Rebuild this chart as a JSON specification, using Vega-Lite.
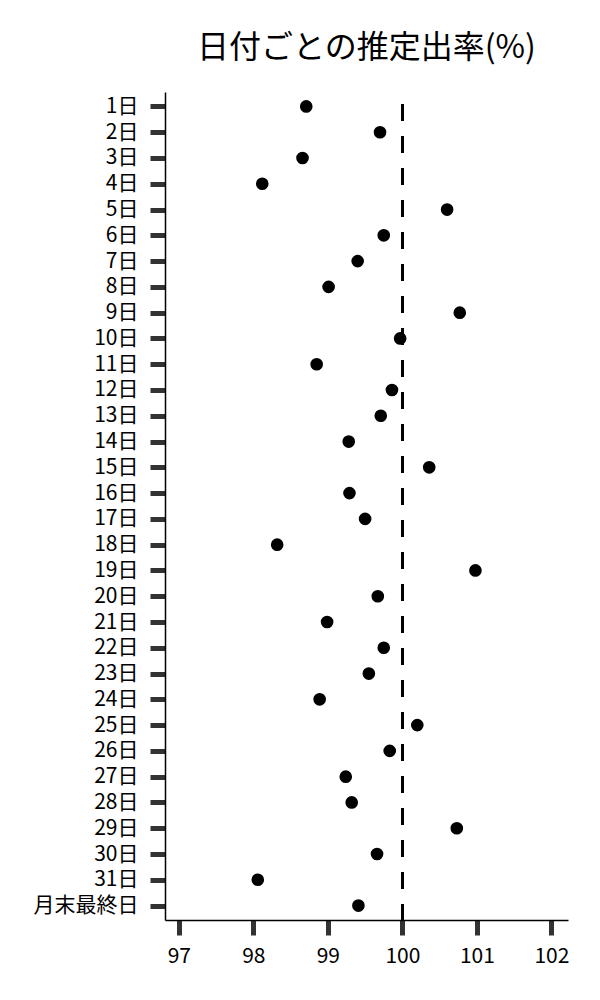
{
  "$schema": "https://vega.github.io/schema/vega-lite/v6.json",
  "autosize": {"type": "none"},
  "padding": {"left": 165, "top": 92, "right": 32, "bottom": 80},
  "width": 403,
  "height": 828,
  "background": "white",
  "config": {
    "view": {"stroke": null},
    "font": "Noto Sans CJK JP"
  },
  "title": {
    "text": "日付ごとの推定出率(%)",
    "font": "Noto Sans CJK JP",
    "fontSize": 32,
    "fontWeight": "normal",
    "color": "black",
    "anchor": "middle",
    "offset": 26
  },
  "data": {
    "values": [
      {"day": "1日", "rate": 98.71},
      {"day": "2日", "rate": 99.70},
      {"day": "3日", "rate": 98.66},
      {"day": "4日", "rate": 98.12},
      {"day": "5日", "rate": 100.60},
      {"day": "6日", "rate": 99.75},
      {"day": "7日", "rate": 99.40},
      {"day": "8日", "rate": 99.01},
      {"day": "9日", "rate": 100.77},
      {"day": "10日", "rate": 99.97},
      {"day": "11日", "rate": 98.85},
      {"day": "12日", "rate": 99.86},
      {"day": "13日", "rate": 99.71},
      {"day": "14日", "rate": 99.28},
      {"day": "15日", "rate": 100.36},
      {"day": "16日", "rate": 99.29},
      {"day": "17日", "rate": 99.50},
      {"day": "18日", "rate": 98.32},
      {"day": "19日", "rate": 100.98},
      {"day": "20日", "rate": 99.67},
      {"day": "21日", "rate": 98.99},
      {"day": "22日", "rate": 99.75},
      {"day": "23日", "rate": 99.55},
      {"day": "24日", "rate": 98.89},
      {"day": "25日", "rate": 100.20},
      {"day": "26日", "rate": 99.83},
      {"day": "27日", "rate": 99.24},
      {"day": "28日", "rate": 99.32},
      {"day": "29日", "rate": 100.73},
      {"day": "30日", "rate": 99.66},
      {"day": "31日", "rate": 98.06},
      {"day": "月末最終日", "rate": 99.41}
    ]
  },
  "layer": [
    {
      "mark": {"type": "rule", "color": "black", "strokeWidth": 2.5, "strokeDash": [17, 15], "strokeDashOffset": 20},
      "encoding": {
        "x": {"datum": 100, "type": "quantitative"}
      }
    },
    {
      "mark": {"type": "circle", "size": 160, "color": "black", "opacity": 1},
      "encoding": {
        "x": {
          "field": "rate",
          "type": "quantitative",
          "scale": {"domain": [96.815, 102.222], "nice": false, "zero": false},
          "axis": {
            "title": null,
            "values": [97, 98, 99, 100, 101, 102],
            "format": "d",
            "grid": false,
            "domainColor": "black",
            "domainWidth": 1.5,
            "tickColor": "#333333",
            "tickWidth": 5,
            "tickSize": 15,
            "labelFont": "Noto Sans CJK JP",
            "labelFontSize": 21,
            "labelColor": "black",
            "labelPadding": 10,
            "labelFlush": false
          }
        },
        "y": {
          "field": "day",
          "type": "nominal",
          "sort": null,
          "scale": {"type": "point", "padding": 0.56},
          "axis": {
            "title": null,
            "grid": false,
            "domainColor": "black",
            "domainWidth": 1.5,
            "tickColor": "#333333",
            "tickWidth": 5,
            "tickSize": 15,
            "labelFont": "Noto Sans CJK JP",
            "labelFontSize": 21,
            "labelColor": "black",
            "labelPadding": 12,
            "labelOverlap": false
          }
        }
      }
    }
  ]
}
